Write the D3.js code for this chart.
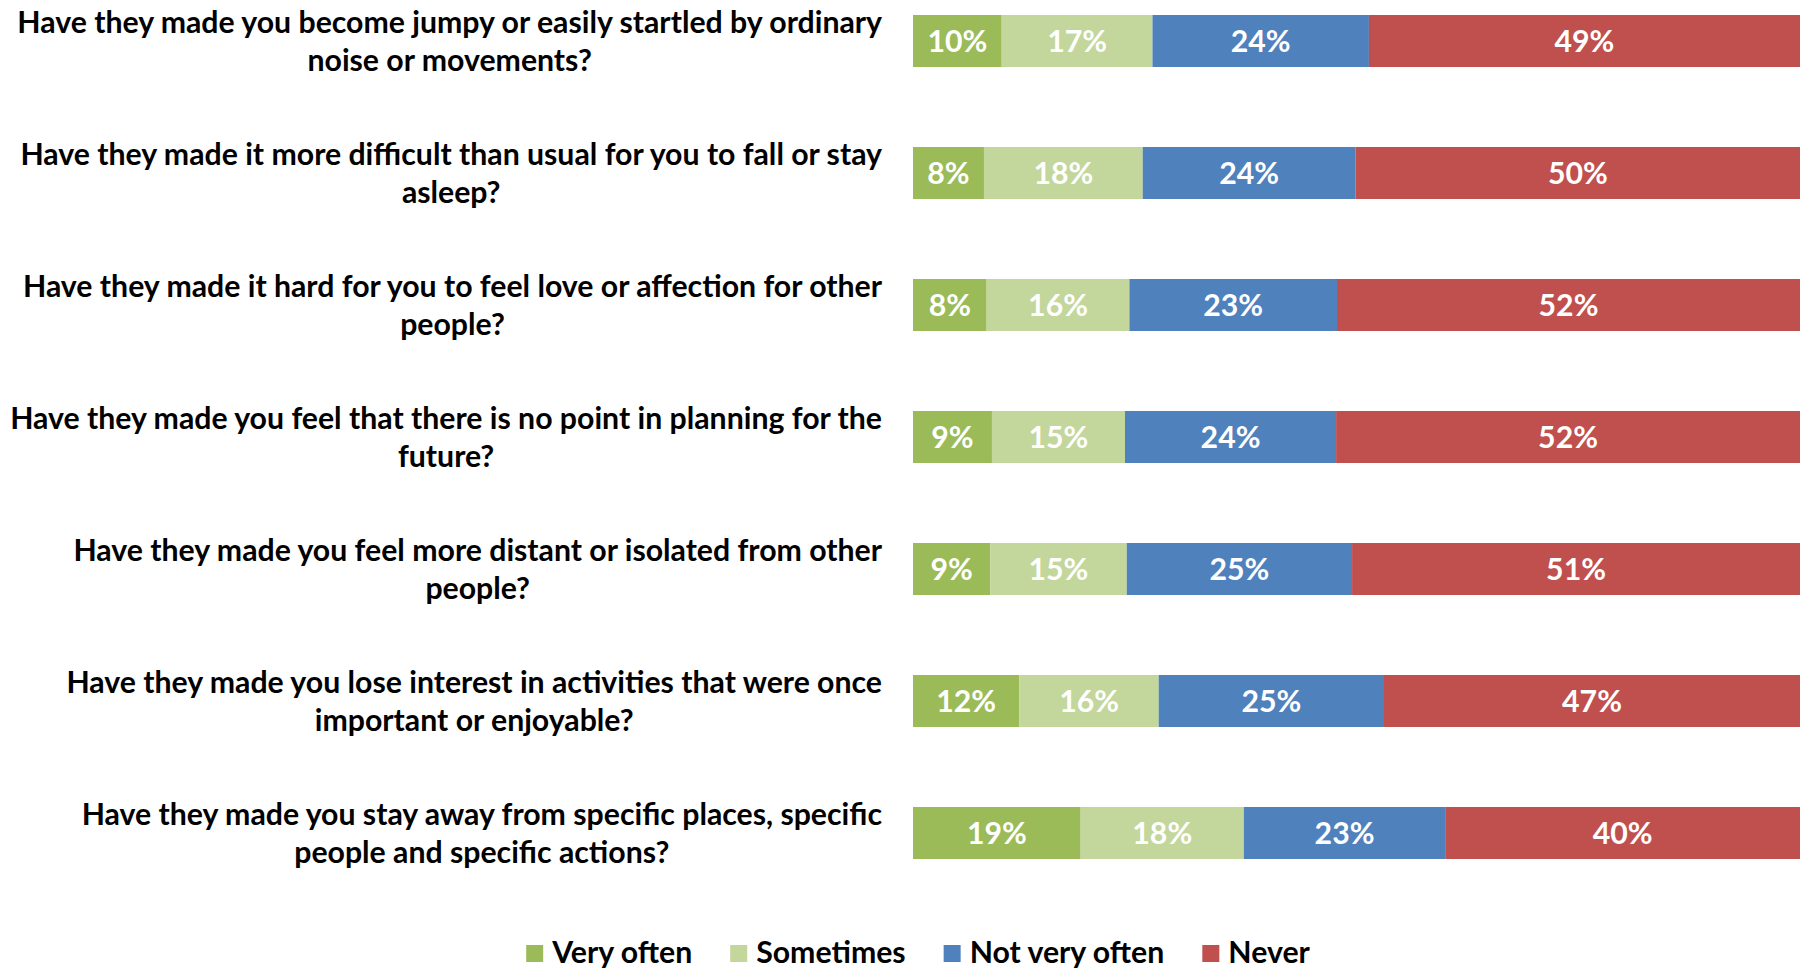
<!DOCTYPE html>
<html>
<head>
<meta charset="utf-8">
<script src="https://cdn.jsdelivr.net/npm/d3@7"></script>
<style>
  html, body { margin: 0; padding: 0; background: #fff; overflow: hidden; }
  svg { display: block; }
  text { font-family: Lato, "Open Sans", sans-serif; font-weight: bold; }
</style>
</head>
<body>
<svg id="chart" width="1800" height="971"></svg>
<script>
const categories = [
  "Have they made you become jumpy or easily startled by ordinary\nnoise or movements?",
  "Have they made it more difficult than usual for you to fall or stay\nasleep?",
  "Have they made it hard for you to feel love or affection for other\npeople?",
  "Have they made you feel that there is no point in planning for the\nfuture?",
  "Have they made you feel more distant or isolated from other\npeople?",
  "Have they made you lose interest in activities that were once\nimportant or enjoyable?",
  "Have they made you stay away from specific places, specific\npeople and specific actions?"
];
const seriesNames = ["Very often", "Sometimes", "Not very often", "Never"];
const veryOften    = [10.0,  8.0,  8.3,  8.9,  8.7, 12.0, 18.9];
const sometimes    = [17.0, 17.9, 16.1, 15.0, 15.4, 15.7, 18.4];
const notVeryOften = [24.4, 24.0, 23.4, 23.8, 25.4, 25.4, 22.7];
const never        = [48.6, 50.1, 52.2, 52.3, 50.5, 46.9, 40.0];
const colors = ["#9BBB59", "#C3D69B", "#4F81BD", "#C0504D"];

const seriesValues = [veryOften, sometimes, notVeryOften, never];
const rows = categories.map((c, i) => {
  const r = { cat: c };
  seriesNames.forEach((s, j) => r[s] = seriesValues[j][i]);
  return r;
});

const svg = d3.select("#chart");

// fit font size so the first label line matches the reference width (865px)
const probe = svg.append("text").attr("font-size", 100).text(categories[0].split("\n")[0]);
const FS = 100 * 865 / probe.node().getComputedTextLength();
probe.remove();

const x = d3.scaleLinear().domain([0, 100]).range([913, 1800]);
const y = d3.scaleBand().domain(categories).range([15, 859]).paddingInner(80 / 132).paddingOuter(0);

const stack = d3.stack().keys(seriesNames)(rows);

const layers = svg.append("g").selectAll("g")
  .data(stack).join("g")
  .attr("fill", (d, i) => colors[i]);

layers.selectAll("rect")
  .data(d => d)
  .join("rect")
  .attr("x", d => x(d[0]))
  .attr("y", d => y(d.data.cat))
  .attr("width", d => x(d[1]) - x(d[0]))
  .attr("height", y.bandwidth());

layers.selectAll("text")
  .data(d => d)
  .join("text")
  .attr("x", d => (x(d[0]) + x(d[1])) / 2)
  .attr("y", d => y(d.data.cat) + y.bandwidth() / 2)
  .attr("dy", "0.36em")
  .attr("text-anchor", "middle")
  .attr("fill", "#fff")
  .attr("font-size", FS)
  .text(d => Math.round(d[1] - d[0]) + "%");

// category labels: block right-aligned at 882, lines centered within block
const labelRight = 882;
const lineH = 38;
const lab = svg.append("g");
categories.forEach(c => {
  const lines = c.split("\n");
  const g = lab.append("g");
  const ts = lines.map((ln, k) => g.append("text")
    .attr("font-size", FS)
    .attr("fill", "#000")
    .attr("text-anchor", "middle")
    .attr("y", y(c) + y.bandwidth() / 2 + (k - (lines.length - 1) / 2) * lineH)
    .attr("dy", "0.36em")
    .text(ln));
  const maxW = d3.max(ts, t => t.node().getComputedTextLength());
  ts.forEach(t => t.attr("x", labelRight - maxW / 2));
});

// legend
const leg = svg.append("g");
const sq = 17, gapT = 9, gapItem = 38;
const items = seriesNames.map((s, i) => {
  const g = leg.append("g");
  g.append("rect").attr("width", sq).attr("height", sq).attr("y", 945).attr("fill", colors[i]);
  const t = g.append("text").attr("x", sq + gapT).attr("y", 952).attr("dy", "0.36em")
    .attr("font-size", FS).attr("fill", "#000").text(s);
  return { g, w: sq + gapT + t.node().getComputedTextLength() };
});
const total = d3.sum(items, d => d.w) + gapItem * (items.length - 1);
let cx = 918 - total / 2;
items.forEach(it => { it.g.attr("transform", `translate(${cx},0)`); cx += it.w + gapItem; });
</script>
</body>
</html>
